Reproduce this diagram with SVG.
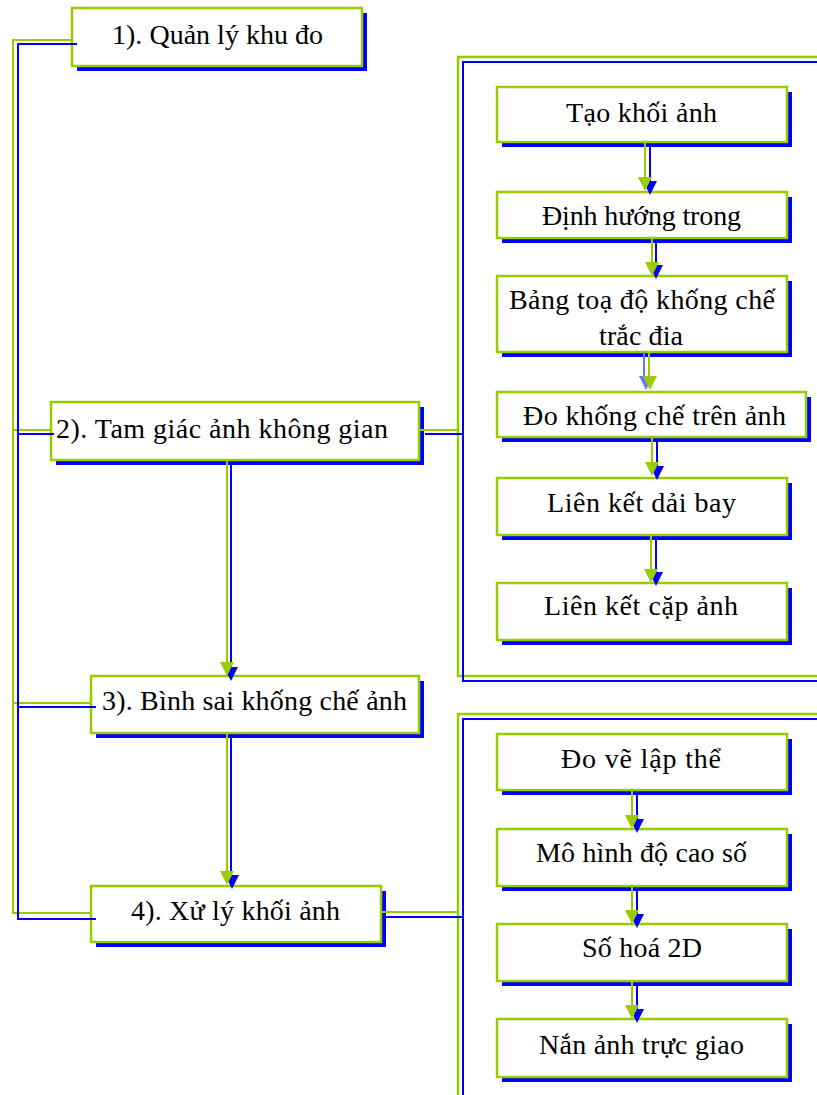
<svg xmlns="http://www.w3.org/2000/svg" width="817" height="1095" viewBox="0 0 817 1095">
<defs>
<style>
.sh{fill:#0000FF;stroke:none}
.bx{fill:#FFFFFF;stroke:#99CC00;stroke-width:2.5}
.cg{fill:none;stroke:#99CC00;stroke-width:2.5}
.cb{fill:none;stroke:#0000FF;stroke-width:2}
.gl{fill:none;stroke:#99CC00;stroke-width:2}
.bl{fill:none;stroke:#0000FF;stroke-width:2}
.lb{fill:none;stroke:#6677FF;stroke-width:2}
.ga{fill:#99CC00}
.ba{fill:#0000FF}
.la{fill:#6677FF}
text{font-family:"Liberation Serif","Times New Roman",serif;font-size:28px;fill:#000000}
</style>
<polygon id="tri" points="-7,-14 7,-14 0,0"/>
</defs>
<rect width="817" height="1095" fill="#FFFFFF"/>

<g id="container-top">
<rect class="cg" x="458" y="57" width="380" height="619"/>
<rect class="cb" x="463" y="62" width="380" height="619"/>
</g>
<g id="container-bottom">
<rect class="cg" x="458" y="714" width="380" height="420"/>
<rect class="cb" x="463" y="719" width="380" height="420"/>
</g>

<g id="node1">
<rect class="sh" x="77" y="13" width="290" height="58"/>
<rect class="bx" x="72" y="8" width="290" height="58"/>
<text x="112" y="44" textLength="211" lengthAdjust="spacing">1). Quản lý khu đo</text>
</g>
<g id="node2">
<rect class="sh" x="56" y="407" width="368" height="58"/>
<rect class="bx" x="51" y="402" width="368" height="58"/>
<text x="56" y="438" textLength="332" lengthAdjust="spacing">2). Tam giác ảnh không gian</text>
</g>
<g id="node3">
<rect class="sh" x="96" y="681" width="328" height="57"/>
<rect class="bx" x="91" y="676" width="328" height="57"/>
<text x="102" y="710" textLength="305" lengthAdjust="spacing">3). Bình sai khống chế ảnh</text>
</g>
<g id="node4">
<rect class="sh" x="96" y="891" width="290" height="56"/>
<rect class="bx" x="91" y="886" width="290" height="56"/>
<text x="131" y="920" textLength="209" lengthAdjust="spacing">4). Xử lý khối ảnh</text>
</g>

<g id="t1">
<rect class="sh" x="502" y="92" width="290" height="55"/>
<rect class="bx" x="497" y="87" width="290" height="55"/>
<text x="566" y="122" textLength="151" lengthAdjust="spacing">Tạo khối ảnh</text>
</g>
<g id="t2">
<rect class="sh" x="502" y="197" width="290" height="46"/>
<rect class="bx" x="497" y="192" width="290" height="46"/>
<text x="542" y="225" textLength="199" lengthAdjust="spacing">Định hướng trong</text>
</g>
<g id="t3">
<rect class="sh" x="502" y="281" width="290" height="76"/>
<rect class="bx" x="497" y="276" width="290" height="76"/>
<text x="509" y="309" textLength="266" lengthAdjust="spacing">Bảng toạ độ khống chế</text>
<text x="599" y="345" textLength="84" lengthAdjust="spacing">trắc đia</text>
</g>
<g id="t4">
<rect class="sh" x="502" y="397" width="309" height="45"/>
<rect class="bx" x="497" y="392" width="309" height="45"/>
<text x="523" y="425" textLength="263" lengthAdjust="spacing">Đo khống chế trên ảnh</text>
</g>
<g id="t5">
<rect class="sh" x="502" y="483" width="290" height="57"/>
<rect class="bx" x="497" y="478" width="290" height="57"/>
<text x="547" y="512" textLength="189" lengthAdjust="spacing">Liên kết dải bay</text>
</g>
<g id="t6">
<rect class="sh" x="502" y="588" width="290" height="57"/>
<rect class="bx" x="497" y="583" width="290" height="57"/>
<text x="544" y="615" textLength="194" lengthAdjust="spacing">Liên kết cặp ảnh</text>
</g>

<g id="u1">
<rect class="sh" x="502" y="739" width="290" height="56"/>
<rect class="bx" x="497" y="734" width="290" height="56"/>
<text x="561" y="768" textLength="160" lengthAdjust="spacing">Đo vẽ lập thể</text>
</g>
<g id="u2">
<rect class="sh" x="502" y="834" width="290" height="57"/>
<rect class="bx" x="497" y="829" width="290" height="57"/>
<text x="536" y="862" textLength="211" lengthAdjust="spacing">Mô hình độ cao số</text>
</g>
<g id="u3">
<rect class="sh" x="502" y="929" width="290" height="57"/>
<rect class="bx" x="497" y="924" width="290" height="57"/>
<text x="582" y="957" textLength="120" lengthAdjust="spacing">Số hoá 2D</text>
</g>
<g id="u4">
<rect class="sh" x="502" y="1024" width="290" height="58"/>
<rect class="bx" x="497" y="1019" width="290" height="58"/>
<text x="539" y="1054" textLength="205" lengthAdjust="spacing">Nắn ảnh trực giao</text>
</g>

<g id="connectors">
<path class="gl" d="M72,40 H13 V913 H91 M13,430 H51 M13,703 H91"/>
<path class="bl" d="M77,44 H18 V919 H96 M18,434 H54 M18,707 H96"/>
<path class="gl" d="M419,430 H458 M381,912 H458"/>
<path class="bl" d="M425,434 H463 M386,917 H463"/>
<path class="bl" d="M231,465 V668"/>
<use href="#tri" class="ba" transform="translate(231,681)"/>
<path class="gl" d="M227,460 V663"/>
<use href="#tri" class="ga" transform="translate(227,676)"/>
<path class="bl" d="M231,738 V876"/>
<use href="#tri" class="ba" transform="translate(232,889)"/>
<path class="gl" d="M227,733 V871"/>
<use href="#tri" class="ga" transform="translate(227,885)"/>
<path class="bl" d="M650,147 V182"/>
<use href="#tri" class="ba" transform="translate(650,195)"/>
<path class="gl" d="M645,142 V178"/>
<use href="#tri" class="ga" transform="translate(645,191)"/>
<path class="bl" d="M656,243 V266"/>
<use href="#tri" class="ba" transform="translate(656,279)"/>
<path class="gl" d="M652,238 V262"/>
<use href="#tri" class="ga" transform="translate(652,276)"/>
<path class="lb" d="M644,352 V378"/>
<use href="#tri" class="la" transform="translate(646,390)"/>
<path class="gl" d="M649,352 V376"/>
<use href="#tri" class="ga" transform="translate(650,390)"/>
<path class="bl" d="M657,442 V467"/>
<use href="#tri" class="ba" transform="translate(657,480)"/>
<path class="gl" d="M652,437 V462"/>
<use href="#tri" class="ga" transform="translate(652,476)"/>
<path class="bl" d="M656,540 V573"/>
<use href="#tri" class="ba" transform="translate(656,586)"/>
<path class="gl" d="M651,535 V569"/>
<use href="#tri" class="ga" transform="translate(651,583)"/>
<path class="bl" d="M637,795 V820"/>
<use href="#tri" class="ba" transform="translate(637,833)"/>
<path class="gl" d="M632,790 V815"/>
<use href="#tri" class="ga" transform="translate(632,829)"/>
<path class="bl" d="M637,891 V915"/>
<use href="#tri" class="ba" transform="translate(637,928)"/>
<path class="gl" d="M632,886 V910"/>
<use href="#tri" class="ga" transform="translate(632,924)"/>
<path class="bl" d="M637,986 V1010"/>
<use href="#tri" class="ba" transform="translate(637,1023)"/>
<path class="gl" d="M632,981 V1005"/>
<use href="#tri" class="ga" transform="translate(632,1019)"/>
</g>
</svg>
